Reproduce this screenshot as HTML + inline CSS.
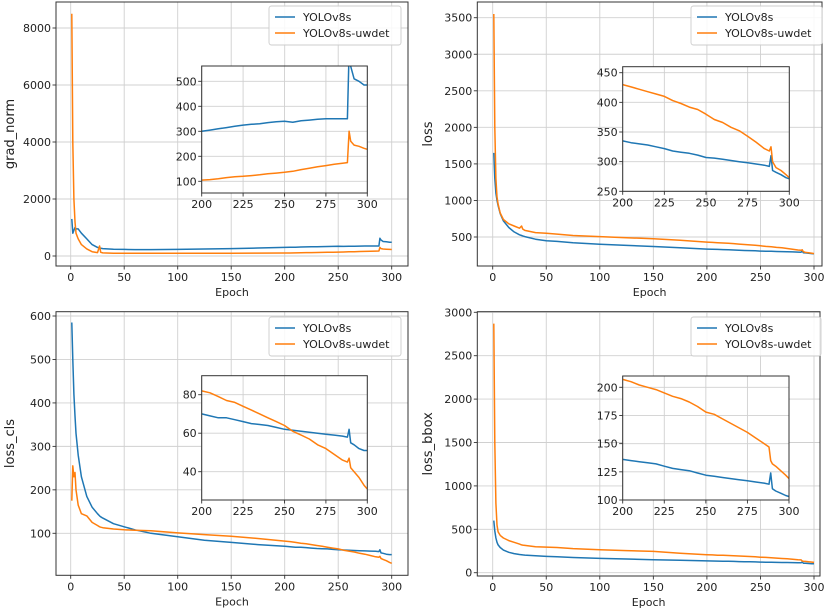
<!DOCTYPE html>
<html><head><meta charset="utf-8"><style>
html,body{margin:0;padding:0;background:#fff;}
svg{display:block;font-family:"DejaVu Sans","Liberation Sans",sans-serif;}
</style></head><body>
<svg id="fig" width="833" height="614" viewBox="0 0 833 614"></svg>
<script>
const epochs=[1,2,3,4,5,7,10,15,20,25,27,28,30,40,50,60,75,100,125,150,175,200,205,210,215,220,225,230,235,240,245,250,255,260,265,270,275,280,285,288,289,290,292,295,298,300];
const gradBlue=[1300,800,900,1000,950,950,800,600,400,300,280,270,260,240,230,225,225,230,245,260,280,300,305,310,315,320,325,328,330,335,338,340,336,342,345,348,350,350,350,350,620,560,510,500,485,485];
const gradOrange=[8500,4000,2000,1200,800,600,400,250,150,120,350,130,110,100,95,95,95,95,97,100,102,105,107,110,115,118,120,123,126,130,133,136,140,147,152,158,163,168,172,175,300,260,245,240,232,228];
const lossBlue=[1650,1300,1100,1000,930,820,720,630,570,530,520,515,505,470,450,440,420,400,385,370,352,335,332,330,328,325,322,318,316,314,311,307,306,304,302,300,298,296,294,292,310,285,282,278,273,271];
const lossOrange=[3550,2000,1300,1050,950,830,740,680,650,620,650,610,590,560,550,540,520,505,490,475,455,430,426,422,418,414,410,403,398,392,388,380,371,366,358,352,343,333,322,318,325,300,290,285,278,273];
const clsBlue=[585,500,420,370,330,280,230,185,160,145,140,138,135,122,115,108,100,92,84,79,74,70,69,68,68,67,66,65,64.5,64,63,62,61.5,61,60.5,60,59.5,59,58.5,58,62,55,54,52,51,51];
const clsOrange=[175,255,230,240,200,165,145,140,125,118,115,114,113,110,108,107,106,101,97,93,88,82,81,79,77,76,74,72,70,68,66,64,61,59,57,54,52,49,46,45,47,42,40,37,33,31];
const bboxBlue=[600,480,400,350,320,290,260,235,220,210,207,205,203,195,188,183,175,165,158,150,143,136,135,134,133,132,130,128,127,126,124,122,121,120,119,118,117,116,115,114,124,110,108,106,104,103];
const bboxOrange=[2870,1500,800,550,470,430,400,370,350,330,320,318,315,300,295,290,278,265,255,245,225,207,205,202,200,198,195,192,190,187,183,178,176,172,168,164,160,155,150,147,135,132,130,126,122,119];
const xTicks=[0,50,100,150,200,250,300];
const insetXTicks=[200,225,250,275,300];
const gradTicks=[0,2000,4000,6000,8000];
const lossTicks=[500,1000,1500,2000,2500,3000,3500];
const clsTicks=[100,200,300,400,500,600];
const bboxTicks=[0,500,1000,1500,2000,2500,3000];
const gradInsetTicks=[100,200,300,400,500];
const lossInsetTicks=[250,300,350,400,450];
const clsInsetTicks=[40,60,80];
const bboxInsetTicks=[100,125,150,175,200];
const seriesNames=["YOLOv8s","YOLOv8s-uwdet"];
const BLUE="#1f77b4",ORANGE="#ff7f0e";
const NS="http://www.w3.org/2000/svg";
const fig=document.getElementById('fig');
function mk(tag,attrs,parent){const e=document.createElementNS(NS,tag);for(const k in attrs)e.setAttribute(k,attrs[k]);(parent||fig).appendChild(e);return e;}
let clipId=0;
function lin(d0,d1,p0,p1){return v=>p0+(v-d0)*(p1-p0)/(d1-d0);}
function axes(g,box,xs,ys,xt,yt,fs,name){
  // box: l,t,r,b
  const grid=mk('g',{},g);
  
  
  xt.forEach(v=>{const x=xs(v);mk('line',{x1:x,x2:x,y1:box.t,y2:box.b,stroke:'#d0d0d0','stroke-width':0.9},grid);});
  yt.forEach(v=>{const y=ys(v);mk('line',{x1:box.l,x2:box.r,y1:y,y2:y,stroke:'#d0d0d0','stroke-width':0.9},grid);});
  const xa=mk('g',{},g);
  
  
  xt.forEach(v=>{const x=xs(v);mk('line',{x1:x,x2:x,y1:box.b,y2:box.b+3.5,stroke:'#333','stroke-width':0.9},xa);
    const t=mk('text',{x:x,y:box.b+15,'text-anchor':'middle','font-size':fs,fill:'#222'},xa);t.textContent=v;});
  const ya=mk('g',{},g);
  
  
  yt.forEach(v=>{const y=ys(v);mk('line',{x1:box.l-3.5,x2:box.l,y1:y,y2:y,stroke:'#333','stroke-width':0.9},ya);
    const t=mk('text',{x:box.l-5,y:y+4,'text-anchor':'end','font-size':fs,fill:'#222'},ya);t.textContent=v;});
}
function line(g,xs,ys,vals,color,box,name,minEpoch){
  const id='c'+(clipId++);
  const cp=mk('clipPath',{id:id},g);mk('rect',{x:box.l,y:box.t,width:box.r-box.l,height:box.b-box.t},cp);
  let d='';
  epochs.forEach((e,i)=>{if(e<minEpoch)return;d+=(d?'L':'M')+xs(e).toFixed(1)+','+ys(vals[i]).toFixed(1);});
  const p=mk('path',{d:d,fill:'none',stroke:color,'stroke-width':1.5,'stroke-linejoin':'round','clip-path':'url(#'+id+')'},g);
  
  
}
function panel(cfg){
  const g=mk('g',{});
  
  
  const b=cfg.box;
  const xs=lin(0,300,cfg.x0,cfg.x300);
  const ys=lin(cfg.yv[0],cfg.yv[1],cfg.yp[0],cfg.yp[1]);
  axes(g,b,xs,ys,xTicks,cfg.yt,11,cfg.name);
  line(g,xs,ys,cfg.blue,BLUE,b,cfg.name+'-yolov8s-line',0);
  line(g,xs,ys,cfg.orange,ORANGE,b,cfg.name+'-uwdet-line',0);
  mk('rect',{x:b.l,y:b.t,width:b.r-b.l,height:b.b-b.t,fill:'none',stroke:'#333','stroke-width':1},g);
  const yl=mk('text',{x:0,y:0,'text-anchor':'middle','font-size':13,fill:'#222',transform:`translate(${cfg.ylx},${(b.t+b.b)/2}) rotate(-90)`},g);
  yl.textContent=cfg.ylabel;
  
  
  const xl=mk('text',{x:(b.l+b.r)/2,y:b.b+30,'text-anchor':'middle','font-size':11,fill:'#222'},g);
  xl.textContent='Epoch';
  
  
  // legend
  const lg=mk('g',{},g);
  
  
  const L=cfg.leg;
  mk('rect',{x:L.x,y:L.y,width:L.w,height:39,rx:2.5,fill:'#fff','fill-opacity':0.85,stroke:'#ccc','stroke-width':0.9},lg);
  [BLUE,ORANGE].forEach((c,i)=>{
    const ent=mk('g',{},lg);
    
    
    const yy=L.y+11+i*16;
    mk('line',{x1:L.x+6,x2:L.x+26,y1:yy,y2:yy,stroke:c,'stroke-width':1.5},ent);
    const t=mk('text',{x:L.x+34,y:yy+4,'font-size':11,fill:'#222'},ent);t.textContent=seriesNames[i];
  });
  // inset
  const ig=mk('g',{},g);
  
  
  const ib=cfg.ibox;
  mk('rect',{x:ib.l,y:ib.t,width:ib.r-ib.l,height:ib.b-ib.t,fill:'#fff'},ig);
  const ixs=lin(200,300,ib.l,ib.r);
  const iys=lin(cfg.iyv[0],cfg.iyv[1],cfg.iyp[0],cfg.iyp[1]);
  axes(ig,ib,ixs,iys,insetXTicks,cfg.iyt,11,cfg.name+'-inset');
  line(ig,ixs,iys,cfg.blue,BLUE,ib,cfg.name+'-inset-yolov8s-line',195);
  line(ig,ixs,iys,cfg.orange,ORANGE,ib,cfg.name+'-inset-uwdet-line',195);
  mk('rect',{x:ib.l,y:ib.t,width:ib.r-ib.l,height:ib.b-ib.t,fill:'none',stroke:'#333','stroke-width':1},ig);
}
panel({name:'grad-norm',box:{l:56,t:2,r:408,b:266},x0:70.7,x300:391.7,yv:[0,8000],yp:[256,28],yt:gradTicks,blue:gradBlue,orange:gradOrange,ylabel:'grad_norm',ylx:14,
  leg:{x:269,y:6,w:132},ibox:{l:201.7,t:66,r:367.3,b:193},iyv:[100,500],iyp:[181.3,81.3],iyt:gradInsetTicks});
panel({name:'loss',box:{l:477.3,t:2,r:822,b:266},x0:492.7,x300:814,yv:[500,3500],yp:[237,17.7],yt:lossTicks,blue:lossBlue,orange:lossOrange,ylabel:'loss',ylx:432,
  leg:{x:691,y:6,w:131},ibox:{l:622.7,t:66.7,r:789.3,b:191.3},iyv:[250,450],iyp:[191.3,72.7],iyt:lossInsetTicks});
panel({name:'loss-cls',box:{l:56,t:311.7,r:408,b:575.3},x0:70.7,x300:391.7,yv:[100,600],yp:[533.3,316],yt:clsTicks,blue:clsBlue,orange:clsOrange,ylabel:'loss_cls',ylx:14,
  leg:{x:269,y:317,w:132},ibox:{l:201.7,t:375.7,r:367.3,b:500},iyv:[40,80],iyp:[471.7,394.7],iyt:clsInsetTicks});
panel({name:'loss-bbox',box:{l:477.3,t:311.7,r:820,b:576},x0:492.7,x300:814,yv:[0,3000],yp:[572.7,312.3],yt:bboxTicks,blue:bboxBlue,orange:bboxOrange,ylabel:'loss_bbox',ylx:432,
  leg:{x:691,y:317,w:130},ibox:{l:622.7,t:376,r:789,b:500},iyv:[100,200],iyp:[500,387.3],iyt:bboxInsetTicks});
</script>
</body></html>
